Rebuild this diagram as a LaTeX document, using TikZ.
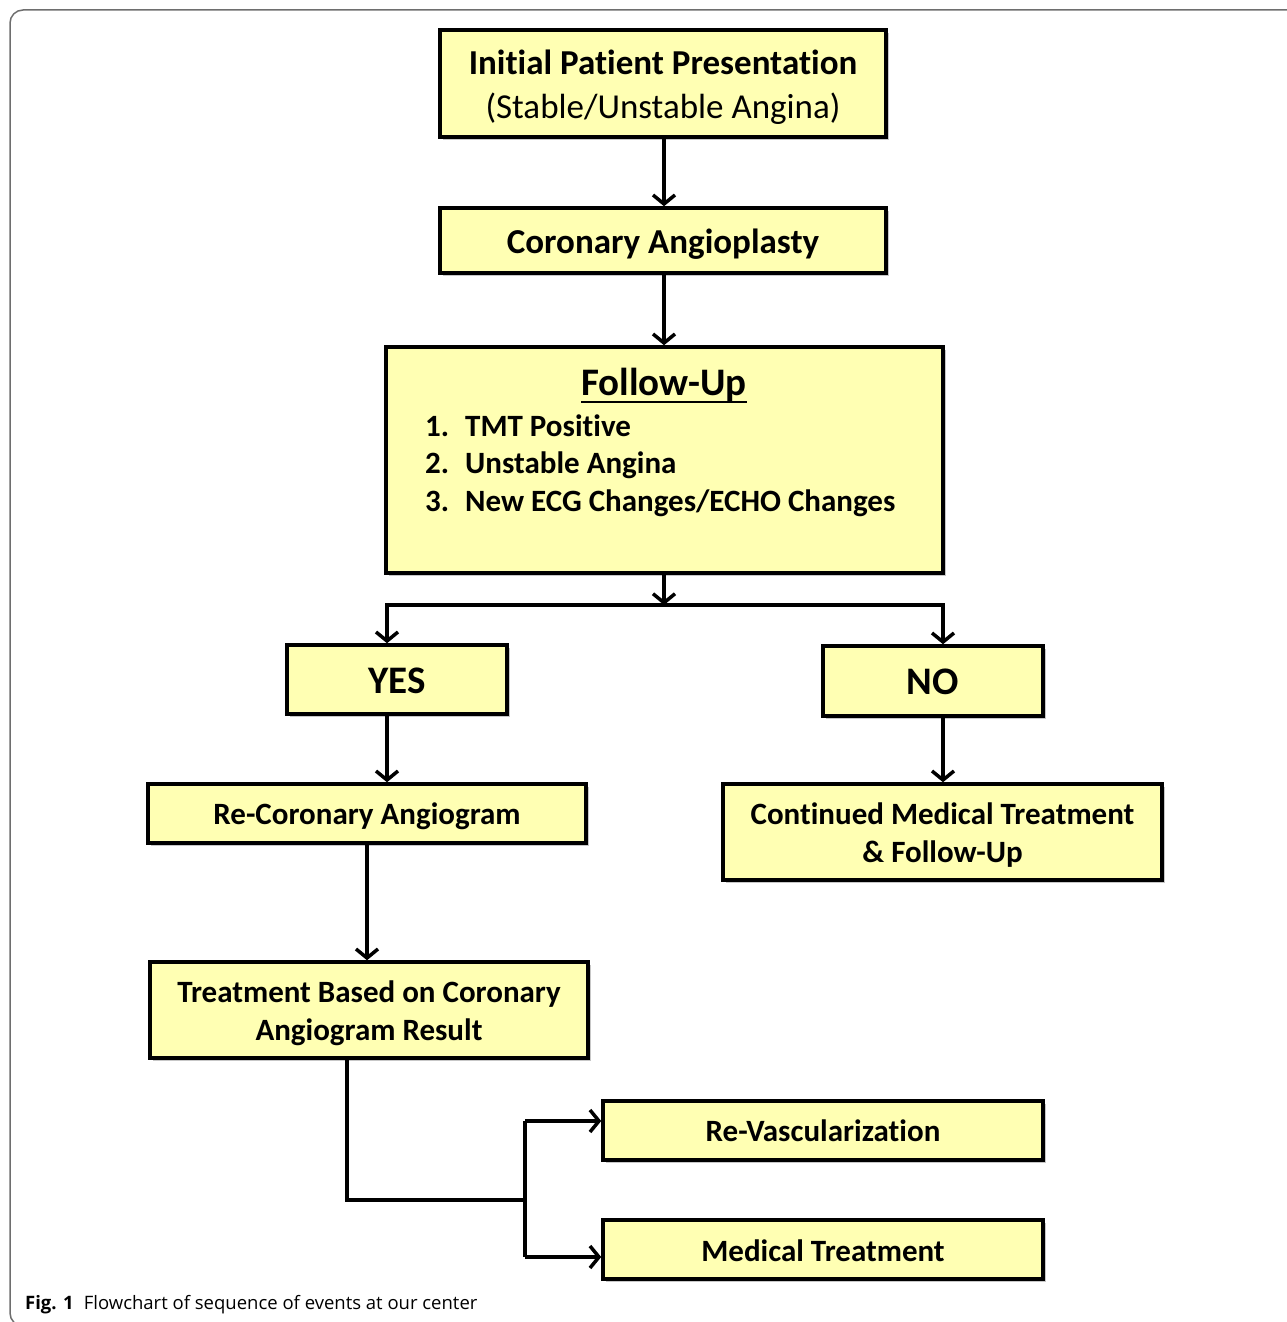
\documentclass[tikz,border=0pt]{standalone}
\usepackage{fontspec}
\setmainfont{Carlito}[Ligatures=NoCommon]
\newfontfamily\capfont{Open Sans}
\usetikzlibrary{arrows.meta,shadows}
\definecolor{boxfill}{RGB}{255,255,179}
\definecolor{framegray}{RGB}{110,110,110}
\begin{document}
\begin{tikzpicture}[x=1pt,y=-1pt,
  fbox/.style={draw=black, line width=3.5pt, fill=boxfill, inner sep=0pt, align=center,
    drop shadow={shadow xshift=3pt, shadow yshift=-3pt, opacity=0.22, fill=black}},
  btxt/.style={inner sep=0pt, align=center},
  bigtxt/.style={font=\bfseries\fontsize{35}{44}\selectfont},
  yntxt/.style={font=\bfseries\fontsize{39}{44}\selectfont},
  midtxt/.style={font=\bfseries\fontsize{31}{38}\selectfont},
  conn/.style={line width=3.5pt, draw=black},
  arr/.style={conn, -{Straight Barb[length=9pt,width=22pt]}},
]
\useasboundingbox (0,0) rectangle (1287,1322);
% frame
\draw[framegray, line width=1.5pt, rounded corners=13pt] (1300,10) -- (10,10) -- (10,1326) -- (40,1326);

% boxes
\node[fbox, minimum width=446pt, minimum height=107pt] (b1) at (663,83.5) {};
\node[btxt, bigtxt] (b1t) at ([yshift=-4pt]b1.center)
  {Initial Patient Presentation\\\mdseries(Stable/Unstable Angina)};
\node[fbox, minimum width=446pt, minimum height=65pt] (b2) at (663,240.5) {};
\node[btxt, bigtxt] (b2t) at ([yshift=-4pt]b2.center) {Coronary Angioplasty};
\node[fbox, minimum width=557pt, minimum height=226pt] (b3) at (664.5,460) {};
\node[anchor=base, inner sep=0pt, font=\bfseries\fontsize{39}{44}\selectfont] (fu) at (664,395) {Follow-Up};
\draw[line width=2.8pt] ([yshift=-7pt]fu.base west) -- ([yshift=-7pt]fu.base east);
\node[anchor=base west, inner sep=0pt, midtxt] (n1) at (425,436) {1.};
\node[anchor=base west, inner sep=0pt, midtxt] (l1) at (465,436) {TMT Positive};
\node[anchor=base west, inner sep=0pt, midtxt] (n2) at (425,473.5) {2.};
\node[anchor=base west, inner sep=0pt, midtxt] (l2) at (465,473.5) {Unstable Angina};
\node[anchor=base west, inner sep=0pt, midtxt] (n3) at (425,511) {3.};
\node[anchor=base west, inner sep=0pt, midtxt] (l3) at (465,511) {New ECG Changes/ECHO Changes};

\node[fbox, minimum width=220pt, minimum height=69pt] (yes) at (397,679.5) {};
\node[btxt, yntxt] (yest) at ([yshift=-1pt]yes.center) {YES};
\node[fbox, minimum width=220pt, minimum height=70pt] (no) at (933,681) {};
\node[btxt, yntxt] (not) at ([yshift=-1pt]no.center) {NO};
\node[fbox, minimum width=438pt, minimum height=59pt] (recor) at (367,813.5) {};
\node[btxt, midtxt] (recort) at ([yshift=-3pt]recor.center) {Re-Coronary Angiogram};
\node[fbox, minimum width=439pt, minimum height=96pt] (cont) at (942.5,832) {};
\node[btxt, midtxt] (contt) at ([yshift=-3pt]cont.center)
  {Continued Medical Treatment\\\& Follow-Up};
\node[fbox, minimum width=438pt, minimum height=96pt] (treat) at (369,1010) {};
\node[btxt, midtxt] (treatt) at ([yshift=-3.5pt]treat.center)
  {Treatment Based on Coronary\\Angiogram Result};
\node[fbox, minimum width=440pt, minimum height=59pt] (revasc) at (823,1130.5) {};
\node[btxt, midtxt] (revasct) at (revasc.center) {Re-Vascularization};
\node[fbox, minimum width=440pt, minimum height=59pt] (med) at (823,1249.5) {};
\node[btxt, midtxt] (medt) at ([yshift=-1pt]med.center) {Medical Treatment};

% caption
\node[anchor=base west, font=\capfont\fontsize{18.5}{20}\selectfont, inner sep=0pt] (cap) at (25,1309)
  {\textbf{Fig. 1}\hspace{0.55em}Flowchart of sequence of events at our center};

% junction coordinates
\coordinate (jm) at (664,605);
\coordinate (jl) at (387,605);
\coordinate (jr) at (943,605);
\coordinate (tl) at (347,1200);
\coordinate (tm) at (525,1200);
\coordinate (a1) at (525,1121);
\coordinate (a2) at (525,1257);

% connectors
\draw[arr] (b1.south -| 664,0) -- (b2.north -| 664,0);
\draw[arr] (b2.south -| 664,0) -- (b3.north -| 664,0);
\draw[arr] (b3.south -| jm) -- (jm);
\draw[conn, line cap=rect] (jl) -- (jr);
\draw[arr] (jl) -- (jl |- yes.north);
\draw[arr] (jr) -- (jr |- no.north);
\draw[arr] (jl |- yes.south) -- (jl |- recor.north);
\draw[arr] (jr |- no.south) -- (jr |- cont.north);
\draw[arr] (recor.south) -- (recor.south |- treat.north);
\draw[conn, line join=miter] (treat.south -| tl) -- (tl) -- (tm);
\draw[conn, line join=miter] (a1) -- (a2);
\draw[arr] (a1) -- (a1 -| revasc.west);
\draw[arr] (a2) -- (a2 -| med.west);
\end{tikzpicture}
\end{document}
